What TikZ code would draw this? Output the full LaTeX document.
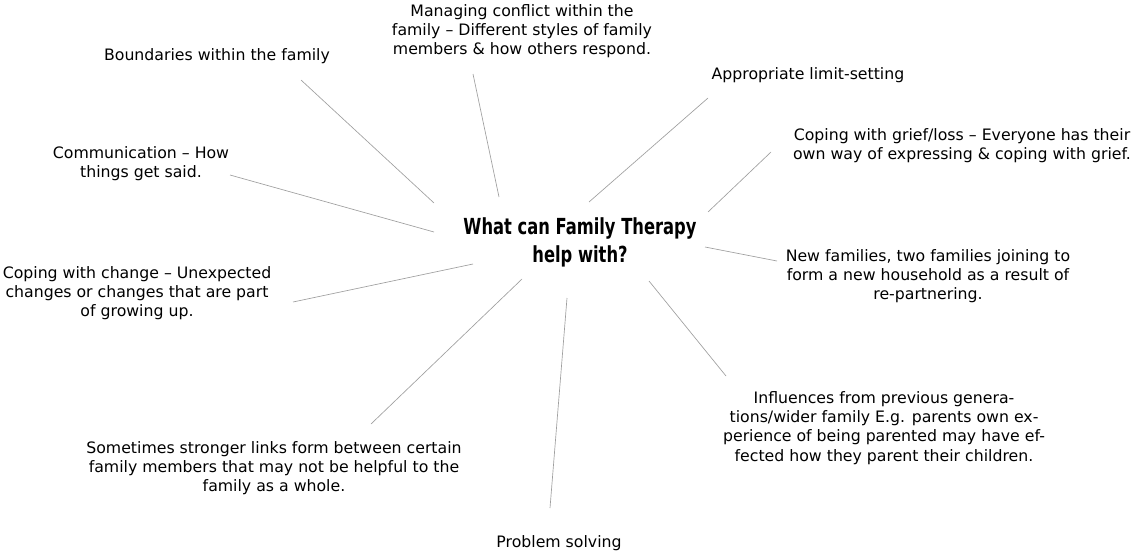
\documentclass[tikz,border=0pt]{standalone}
\usepackage{fontspec}
\setmainfont{DejaVu Sans}
\newfontfamily\titlefont[FakeStretch=0.82]{DejaVu Sans Condensed Bold}

\tikzset{
  topic/.style={align=center, inner sep=0pt, font=\fontsize{11.8}{14.45}\selectfont},
  question/.style={align=center, inner sep=0pt, font=\titlefont\fontsize{16.6}{21}\selectfont},
  spoke/.style={draw=gray!75, line width=0.5pt},
}

\begin{document}
\begin{tikzpicture}[x=0.75pt,y=-0.75pt]
            \useasboundingbox (0,0) rectangle (1135,550);

            \node[question] (Question) at (580,242) {What can Family Therapy\\help with?};

            \node[topic] (Boundaries) at (217,56) {Boundaries within the family};
            \node[topic] (Conflict) at (522,31) {Managing conflict within the\\family -- Different styles of family\\members \& how others respond.};
            \node[topic] (LimitSetting) at (808,75) {Appropriate limit-setting};
            \node[topic] (Grief) at (962,146) {Coping with grief/loss -- Everyone has their\\own way of expressing \& coping with grief.};
            \node[topic] (NewFamilies) at (928,276) {New families, two families joining to\\form a new household as a result of\\re-partnering.};
            \node[topic] (Influences) at (884,428) {Influences from previous genera-\\tions/wider family E.g. parents own ex-\\perience of being parented may have ef-\\fected how they parent their children.};
            \node[topic] (ProblemSolving) at (559,543) {Problem solving};
            \node[topic] (StrongerLinks) at (274,468) {Sometimes stronger links form between certain\\family members that may not be helpful to the\\family as a whole.};
            \node[topic] (Change) at (137,293) {Coping with change -- Unexpected\\changes or changes that are part\\of growing up.};
            \node[topic] (Communication) at (141,164) {Communication -- How\\things get said.};

            % ends of the spokes
            \coordinate (BoundariesIn) at (434,203);
            \coordinate (BoundariesOut) at (301,80);
            \coordinate (ConflictIn) at (499,197);
            \coordinate (ConflictOut) at (473,74);
            \coordinate (LimitSettingIn) at (589,202);
            \coordinate (LimitSettingOut) at (708,98);
            \coordinate (GriefIn) at (708,212);
            \coordinate (GriefOut) at (771,152);
            \coordinate (NewFamiliesIn) at (705,247);
            \coordinate (NewFamiliesOut) at (777,261);
            \coordinate (InfluencesIn) at (649,281);
            \coordinate (InfluencesOut) at (726,376);
            \coordinate (ProblemSolvingIn) at (567,298);
            \coordinate (ProblemSolvingOut) at (550,508);
            \coordinate (StrongerLinksIn) at (522,279);
            \coordinate (StrongerLinksOut) at (371,424);
            \coordinate (ChangeIn) at (473,264);
            \coordinate (ChangeOut) at (293,302);
            \coordinate (CommunicationIn) at (434,232);
            \coordinate (CommunicationOut) at (230,175);

            \draw[spoke] (BoundariesIn) -- (BoundariesOut);
            \draw[spoke] (ConflictIn) -- (ConflictOut);
            \draw[spoke] (LimitSettingIn) -- (LimitSettingOut);
            \draw[spoke] (GriefIn) -- (GriefOut);
            \draw[spoke] (NewFamiliesIn) -- (NewFamiliesOut);
            \draw[spoke] (InfluencesIn) -- (InfluencesOut);
            \draw[spoke] (ProblemSolvingIn) -- (ProblemSolvingOut);
            \draw[spoke] (StrongerLinksIn) -- (StrongerLinksOut);
            \draw[spoke] (ChangeIn) -- (ChangeOut);
            \draw[spoke] (CommunicationIn) -- (CommunicationOut);
        \end{tikzpicture}
\end{document}
